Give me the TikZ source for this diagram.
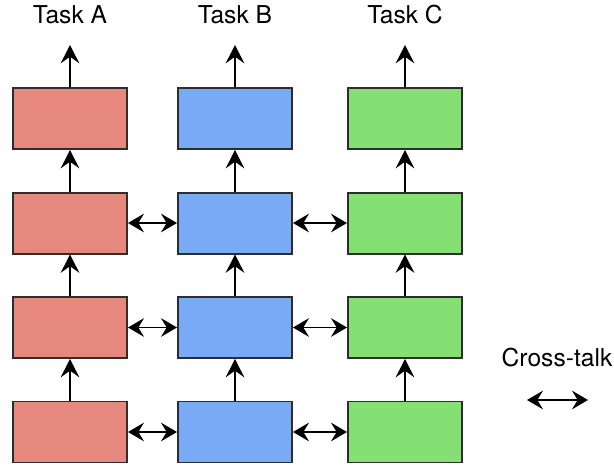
\documentclass[tikz,border=0pt]{standalone}
\usepackage{fontspec}
\setmainfont{TeX Gyre Heros}
\usepackage{xcolor}
\usetikzlibrary{arrows.meta, positioning}

\definecolor{taskred}{RGB}{230,136,126}
\definecolor{taskblue}{RGB}{121,170,245}
\definecolor{taskgreen}{RGB}{132,224,114}
\definecolor{edgegray}{RGB}{45,45,45}

\begin{document}
\begin{tikzpicture}[
  x=0.03cm, y=0.03cm,
  node distance=1.245cm and 1.47cm,
  box/.style={draw=edgegray, line width=1.7pt, minimum width=3.42cm,
              minimum height=1.83cm, inner sep=0pt},
  boxa/.style={box, fill=taskred},
  boxb/.style={box, fill=taskblue},
  boxc/.style={box, fill=taskgreen},
  up/.style={-{Stealth[length=0.55cm, width=0.56cm, inset=0.2cm]}, line width=1.3pt},
  talk/.style={{Stealth[length=0.48cm, width=0.56cm, inset=0.17cm]}-{Stealth[length=0.48cm, width=0.56cm, inset=0.17cm]},
               line width=1.3pt},
  lbl/.style={font=\fontsize{21}{25}\selectfont, inner sep=0pt},
]
\useasboundingbox (0,0) rectangle (614,468);

% Task A column
\node[boxa] (a4) at (70,36) {};
\node[boxa, above=of a4] (a3) {};
\node[boxa, above=of a3] (a2) {};
\node[boxa, above=of a2] (a1) {};

% Task B column
\node[boxb, right=of a4] (b4) {};
\node[boxb, above=of b4] (b3) {};
\node[boxb, above=of b3] (b2) {};
\node[boxb, above=of b2] (b1) {};

% Task C column
\node[boxc, right=1.62cm of b4] (c4) {};
\node[boxc, above=of c4] (c3) {};
\node[boxc, above=of c3] (c2) {};
\node[boxc, above=of c2] (c1) {};

% Outputs
\coordinate (outa) at ([yshift=1.26cm]a1.north);
\coordinate (outb) at ([yshift=1.26cm]b1.north);
\coordinate (outc) at ([yshift=1.26cm]c1.north);
\node[lbl] (taska) at (70,453) {Task A};
\node[lbl] (taskb) at (235,453) {Task B};
\node[lbl] (taskc) at (405,453) {Task C};

% Upward flow
\draw[up] (a4) -- (a3);
\draw[up] (a3) -- (a2);
\draw[up] (a2) -- (a1);
\draw[up] (a1) -- (outa);
\draw[up] (b4) -- (b3);
\draw[up] (b3) -- (b2);
\draw[up] (b2) -- (b1);
\draw[up] (b1) -- (outb);
\draw[up] (c4) -- (c3);
\draw[up] (c3) -- (c2);
\draw[up] (c2) -- (c1);
\draw[up] (c1) -- (outc);

% Cross-talk
\draw[talk] (a2) -- (b2);
\draw[talk] (a3) -- (b3);
\draw[talk] (a4) -- (b4);
\draw[talk] (b2) -- (c2);
\draw[talk] (b3) -- (c3);
\draw[talk] (b4) -- (c4);

% Legend
\node[lbl] (legend) at (557,110) {Cross-talk};
\coordinate (legl) at (527,68);
\coordinate (legr) at (588,68);
\draw[talk] (legl) -- (legr);
\end{tikzpicture}
\end{document}
